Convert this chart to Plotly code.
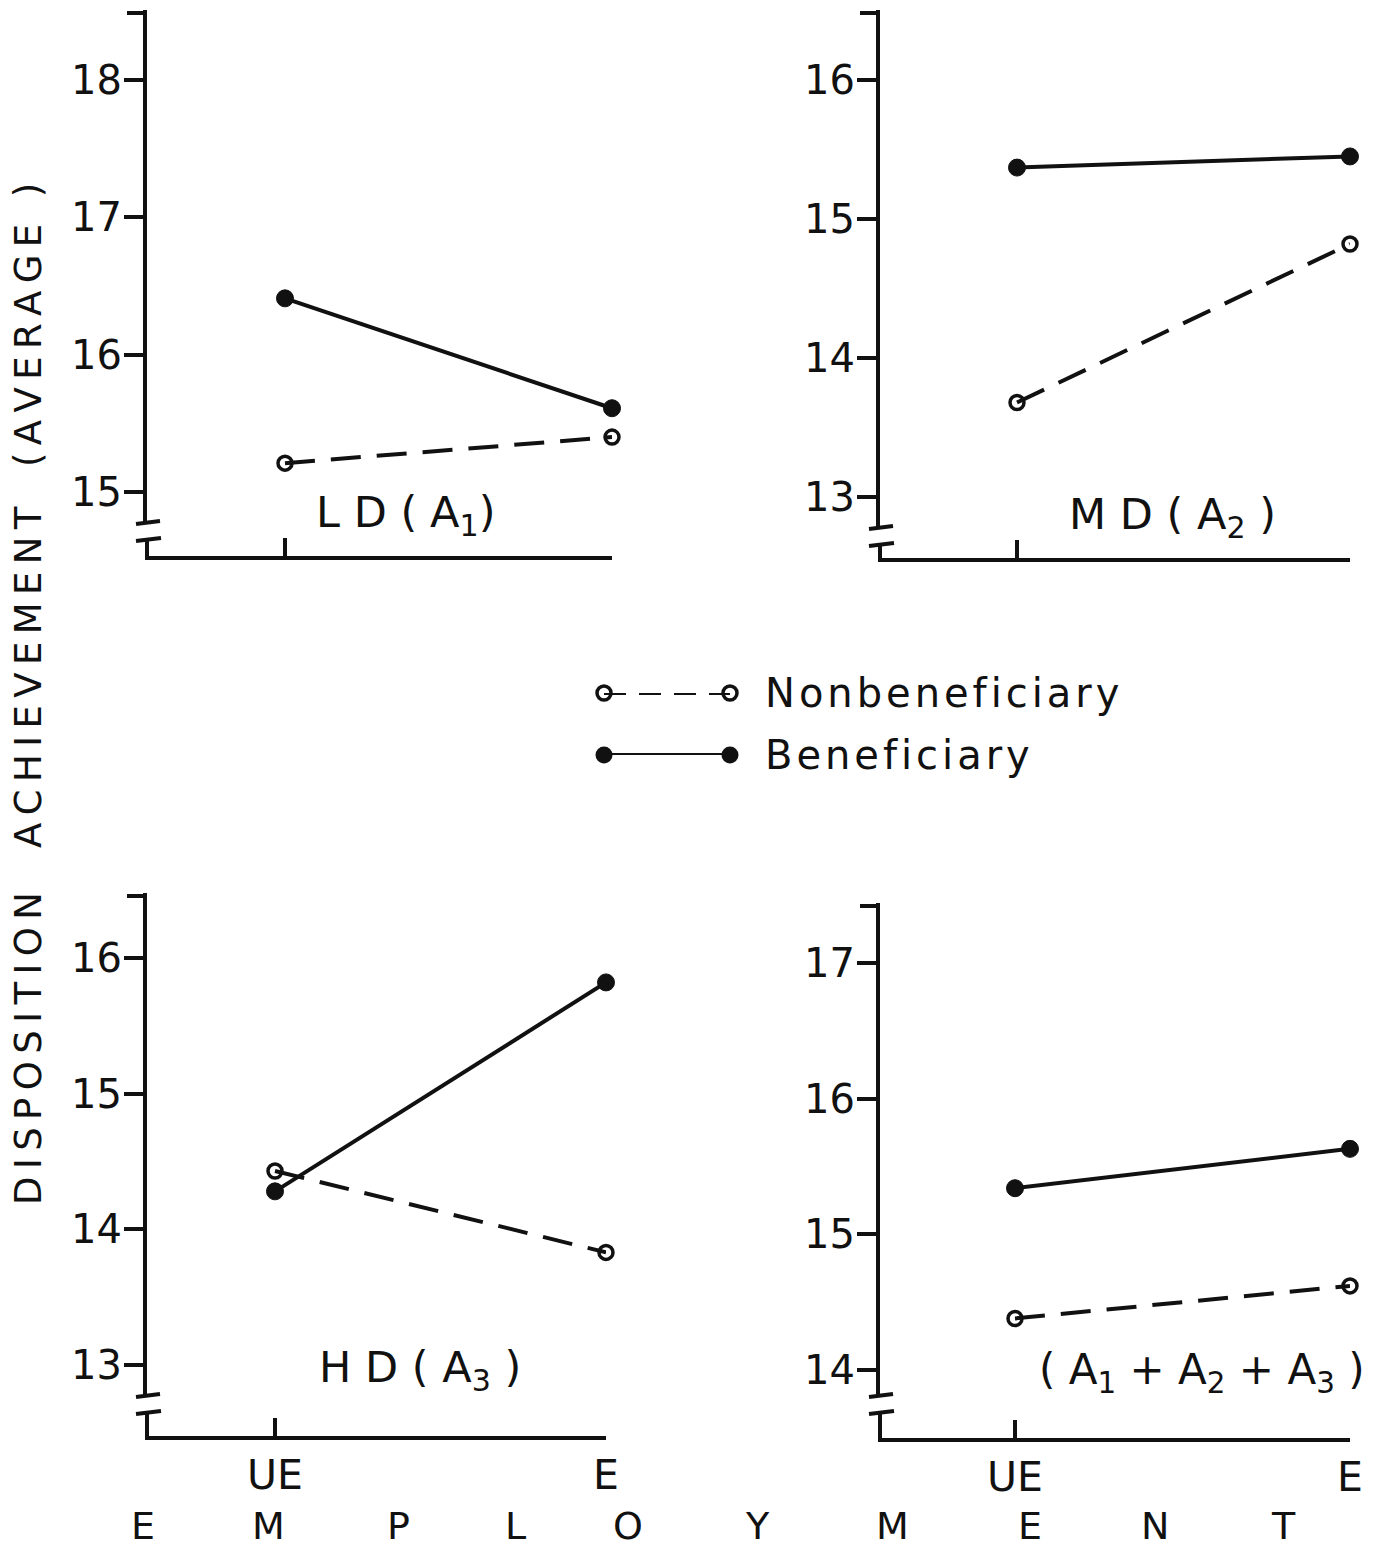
import plotly.graph_objects as go

W, H = 1397, 1553          # browser window
PAGE_MARGIN = 8            # default body margin of the page
FW, FH = W - 2 * PAGE_MARGIN, H - PAGE_MARGIN
FONT = "DejaVu Sans"
INK = "#111111"
THIN = "\u2009"
HAIR = "\u200a"

# ---------------- data ----------------
employment = ["UE", "E"]
series_names = ["Nonbeneficiary", "Beneficiary"]

ld_nonben = [15.21, 15.40]
ld_ben = [16.41, 15.61]
md_nonben = [13.68, 14.82]
md_ben = [15.37, 15.45]
hd_nonben = [14.43, 13.83]
hd_ben = [14.28, 15.82]
all_nonben = [14.38, 14.62]
all_ben = [15.34, 15.63]

panel_titles = ["L D (A<sub>1</sub>)", "M D ( A<sub>2</sub> )",
                "H D ( A<sub>3</sub> )", "( A<sub>1</sub> + A<sub>2</sub> + A<sub>3</sub> )"]
ytitle_parts = ["DISPOSITION", "ACHIEVEMENT", "(AVERAGE )"]
xtitle_letters = list("EMPLOYMENT")


def px(x):
    return (x - PAGE_MARGIN) / FW


def py(y):
    return 1 - (y - PAGE_MARGIN) / FH


def track(s, sep):
    """Add letter spacing between the characters of a plain text."""
    return sep.join(s)


def track_html(s, sep):
    """Letter spacing for a text that may contain <sub> tags."""
    out, i = [], 0
    while i < len(s):
        if s[i] == "<":
            j = s.index(">", i)
            out.append(s[i:j + 1])
            i = j + 1
        else:
            out.append(s[i])
            nxt = s[i + 1] if i + 1 < len(s) else ""
            if s[i] != " " and nxt not in ("", "<", " "):
                out.append(sep)
            i += 1
    return "".join(out)


# panel geometry (pixels) : y-axis x, top, break, x-axis y, UE px, E px,
# two reference ticks (value, pixel)
panels = [
    dict(ax=147, top=10, brk=522, xy=558, ue=285, e=612, hi=(18, 80), lo=(15, 492),
         non=ld_nonben, ben=ld_ben, labels=False, title=(405, 515), sep=THIN + HAIR, fs=43),
    dict(ax=880, top=10, brk=527, xy=560, ue=1017, e=1350, hi=(16, 80), lo=(13, 497),
         non=md_nonben, ben=md_ben, labels=False, title=(1172, 517), sep=THIN + HAIR, fs=43),
    dict(ax=147, top=893, brk=1395, xy=1438, ue=275, e=606, hi=(16, 958), lo=(13, 1365),
         non=hd_nonben, ben=hd_ben, labels=True, title=(420, 1370), sep=THIN + HAIR, fs=43),
    dict(ax=880, top=903, brk=1395, xy=1440, ue=1015, e=1350, hi=(17, 963), lo=(14, 1370),
         non=all_nonben, ben=all_ben, labels=True, title=(1202, 1372), sep=THIN, fs=42),
]

fig = go.Figure()
shapes = []
annotations = []

for i, p in enumerate(panels):
    n = "" if i == 0 else str(i + 1)
    xa, ya = "x" + n, "y" + n
    (vh, ph), (vl, pl) = p["hi"], p["lo"]
    s = (pl - ph) / (vh - vl)
    yr = [vl - (p["brk"] - pl) / s, vh + (ph - p["top"]) / s]
    unit = p["e"] - p["ue"]
    xr = [-(p["ue"] - p["ax"]) / unit, 1.0]

    fig.add_trace(go.Scatter(
        x=employment, y=p["non"], xaxis=xa, yaxis=ya, mode="lines+markers",
        name=series_names[0], showlegend=False, cliponaxis=False,
        line=dict(color=INK, width=4, dash="30px,16px"),
        marker=dict(symbol="circle-open", size=14, color=INK, line=dict(width=3.5, color=INK))))
    fig.add_trace(go.Scatter(
        x=employment, y=p["ben"], xaxis=xa, yaxis=ya, mode="lines+markers",
        name=series_names[1], showlegend=False, cliponaxis=False,
        line=dict(color=INK, width=4),
        marker=dict(symbol="circle", size=17, color=INK, line=dict(width=1, color=INK))))

    fig.update_layout(**{
        "xaxis" + n: dict(
            domain=[px(p["ax"]), px(p["e"])], range=xr, type="category",
            categoryorder="array", categoryarray=employment, automargin=False,
            anchor="free", position=py(p["xy"]), showgrid=False, zeroline=False,
            showline=True, linecolor=INK, linewidth=4,
            ticks="inside", ticklen=18, tickwidth=4, tickcolor=INK,
            showticklabels=p["labels"], ticklabelstandoff=0,
            tickfont=dict(family=FONT, size=41, color=INK)),
        "yaxis" + n: dict(
            domain=[py(p["brk"]), py(p["top"])], range=yr, anchor=xa, automargin=False,
            showgrid=False, zeroline=False, showline=True, linecolor=INK, linewidth=4,
            ticks="outside", ticklen=19, tickwidth=4, tickcolor=INK,
            dtick=1, tick0=0, ticklabelstandoff=-6,
            tickfont=dict(family=FONT, size=40, color=INK)),
    })

    # axis-break decoration and x-axis left stub
    ax = p["ax"]
    shapes += [
        dict(type="line", xref="paper", yref="paper", x0=px(ax - 11), y0=py(p["brk"] + 2),
             x1=px(ax + 13), y1=py(p["brk"] - 1), line=dict(color=INK, width=4)),
        dict(type="line", xref="paper", yref="paper", x0=px(ax - 11), y0=py(p["brk"] + 19),
             x1=px(ax + 14), y1=py(p["brk"] + 16), line=dict(color=INK, width=4)),
        dict(type="line", xref="paper", yref="paper", x0=px(ax), y0=py(p["brk"] + 17),
             x1=px(ax), y1=py(p["xy"] + 2), line=dict(color=INK, width=4)),
        dict(type="line", xref="paper", yref="paper", x0=px(ax - 20), y0=py(p["top"] + 3),
             x1=px(ax), y1=py(p["top"] + 3), line=dict(color=INK, width=4)),
    ]
    annotations.append(dict(
        text=track_html(panel_titles[i], p["sep"]), x=px(p["title"][0]), y=py(p["title"][1]),
        xref="paper", yref="paper", showarrow=False, xanchor="center", yanchor="middle",
        font=dict(family=FONT, size=p["fs"], color=INK)))

# ---------------- legend (custom, on its own axis) ----------------
fig.add_trace(go.Scatter(
    x=[0, 1], y=[series_names[0]] * 2, xaxis="x5", yaxis="y5", mode="lines+markers",
    showlegend=False, cliponaxis=False,
    line=dict(color=INK, width=4, dash="22px,13px"),
    marker=dict(symbol="circle-open", size=14, color=INK, line=dict(width=3.5, color=INK))))
fig.add_trace(go.Scatter(
    x=[0, 1], y=[series_names[1]] * 2, xaxis="x5", yaxis="y5", mode="lines+markers",
    showlegend=False, cliponaxis=False,
    line=dict(color=INK, width=4),
    marker=dict(symbol="circle", size=17, color=INK)))
fig.update_layout(
    xaxis5=dict(domain=[px(604), px(730)], range=[0, 1], anchor="y5", visible=False,
                automargin=False),
    yaxis5=dict(domain=[py(755), py(693)], range=[0, 1], anchor="x5", type="category",
                categoryorder="array", categoryarray=[series_names[1], series_names[0]],
                tickvals=series_names, ticktext=[track(t, HAIR) for t in series_names],
                side="right", showgrid=False, zeroline=False, showline=False, ticks="",
                automargin=False, ticklabelstandoff=34,
                tickfont=dict(family=FONT, size=40, color=INK)),
)

# ---------------- axis titles ----------------
ytitle_centers = [1049, 677, 325]
for txt, yc in zip(ytitle_parts, ytitle_centers):
    annotations.append(dict(
        text=track(txt, THIN), x=px(28), y=py(yc), xref="paper", yref="paper",
        showarrow=False, textangle=-90, xanchor="center", yanchor="middle",
        font=dict(family=FONT, size=37, color=INK)))

letter_x = [143, 268, 398, 515, 628, 757, 892, 1030, 1155, 1283]
for ch, xc in zip(xtitle_letters, letter_x):
    annotations.append(dict(
        text=ch, x=px(xc), y=py(1526), xref="paper", yref="paper", showarrow=False,
        xanchor="center", yanchor="middle",
        font=dict(family=FONT, size=38, color=INK)))

fig.update_layout(
    template="none",
    width=FW, height=FH, margin=dict(l=0, r=0, t=0, b=0, autoexpand=False),
    paper_bgcolor="white", plot_bgcolor="white",
    shapes=shapes, annotations=annotations, showlegend=False,
)

fig.write_html("out.html")
